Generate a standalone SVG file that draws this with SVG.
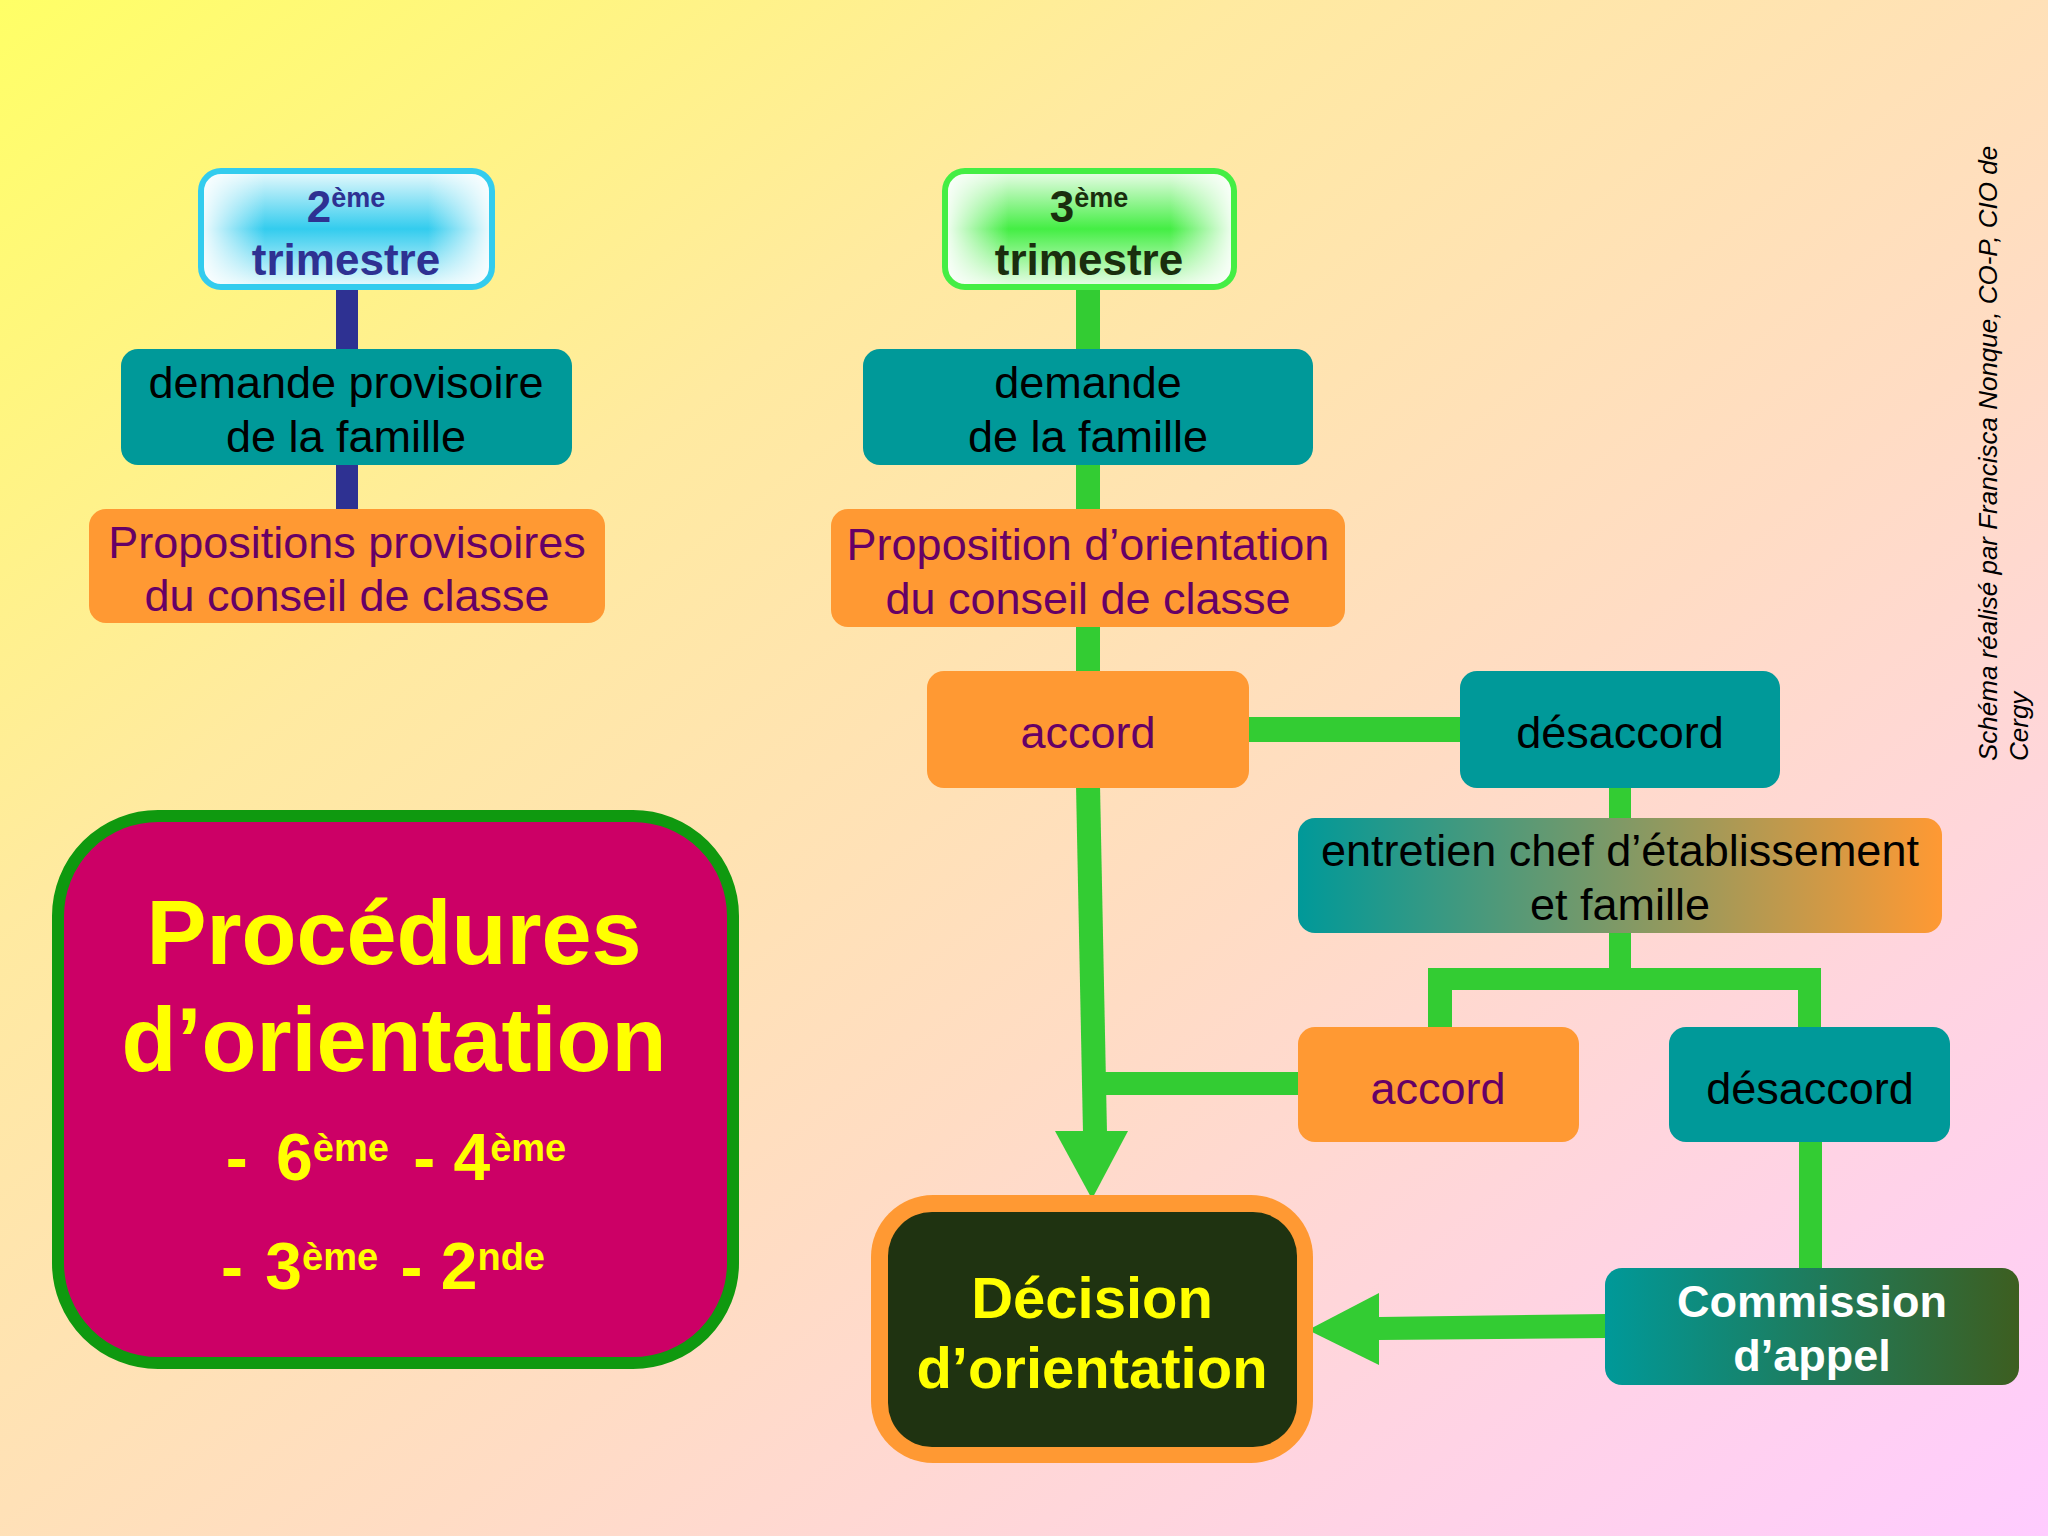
<svg xmlns="http://www.w3.org/2000/svg" width="2048" height="1536" viewBox="0 0 2048 1536">
<defs>
<linearGradient id="bg" x1="0" y1="0" x2="1" y2="1">
<stop offset="0" stop-color="#ffff66"/>
<stop offset="0.3" stop-color="#ffeaa0"/>
<stop offset="0.6" stop-color="#ffdcc4"/>
<stop offset="1" stop-color="#ffccff"/>
</linearGradient>
<linearGradient id="cyanV" x1="0" y1="0" x2="0" y2="1">
<stop offset="0" stop-color="#eafafd"/>
<stop offset="0.5" stop-color="#33ccee"/>
<stop offset="1" stop-color="#eafafd"/>
</linearGradient>
<linearGradient id="greenV" x1="0" y1="0" x2="0" y2="1">
<stop offset="0" stop-color="#ecfdea"/>
<stop offset="0.5" stop-color="#44ee44"/>
<stop offset="1" stop-color="#ecfdea"/>
</linearGradient>
<linearGradient id="whiteH" x1="0" y1="0" x2="1" y2="0">
<stop offset="0" stop-color="#ffffff" stop-opacity="0.95"/>
<stop offset="0.22" stop-color="#ffffff" stop-opacity="0"/>
<stop offset="0.78" stop-color="#ffffff" stop-opacity="0"/>
<stop offset="1" stop-color="#ffffff" stop-opacity="0.95"/>
</linearGradient>
<linearGradient id="entGrad" x1="0" y1="0" x2="1" y2="0">
<stop offset="0" stop-color="#009999"/>
<stop offset="1" stop-color="#ff9933"/>
</linearGradient>
<linearGradient id="comGrad" x1="0" y1="0" x2="1" y2="0">
<stop offset="0" stop-color="#009999"/>
<stop offset="1" stop-color="#3d5e20"/>
</linearGradient>
</defs>
<style>
.t{font-family:"Liberation Sans",Arial,sans-serif;text-anchor:middle}
.b{font-weight:bold}
.n{font-size:45px}
.teal{fill:#009999}
.orange{fill:#ff9933}
.blk{fill:#000000}
.pur{fill:#660066}
.g{fill:#33cc33}
.blue{fill:#2e3192}
</style>
<rect x="0" y="0" width="2048" height="1536" fill="url(#bg)"/>

<g id="connectors">
<rect class="blue" x="336" y="286" width="22" height="66"/>
<rect class="blue" x="336" y="462" width="22" height="50"/>
<rect class="g" x="1076" y="286" width="24" height="66"/>
<rect class="g" x="1076" y="462" width="24" height="50"/>
<rect class="g" x="1076" y="624" width="24" height="50"/>
<rect class="g" x="1246" y="717" width="217" height="25"/>
<rect class="g" x="1609" y="785" width="22" height="36"/>
<polygon class="g" points="1076,785 1100,785 1107,1133 1083,1133"/>
<polygon class="g" points="1055,1131 1128,1131 1092,1199"/>
<rect class="g" x="1097" y="1072" width="204" height="23"/>
<rect class="g" x="1609" y="930" width="22" height="40"/>
<rect class="g" x="1428" y="968" width="393" height="22"/>
<rect class="g" x="1428" y="968" width="24" height="62"/>
<rect class="g" x="1798" y="968" width="23" height="62"/>
<rect class="g" x="1799" y="1139" width="23" height="132"/>
<polygon class="g" points="1379,1317 1607,1314 1607,1338 1379,1340"/>
<polygon class="g" points="1379,1293 1379,1365 1308,1330"/>
</g>

<g id="trim2">
<rect x="201" y="171" width="291" height="116" rx="20" fill="url(#cyanV)"/>
<rect x="201" y="171" width="291" height="116" rx="20" fill="url(#whiteH)" stroke="#33ccee" stroke-width="6"/>
<text class="t b blue" x="346" y="222" font-size="44">2<tspan font-size="27" dy="-15">ème</tspan></text>
<text class="t b blue" x="346" y="275" font-size="44">trimestre</text>
</g>

<g id="trim3">
<rect x="945" y="171" width="289" height="116" rx="20" fill="url(#greenV)"/>
<rect x="945" y="171" width="289" height="116" rx="20" fill="url(#whiteH)" stroke="#44ee44" stroke-width="6"/>
<text class="t b" fill="#1a2e0e" x="1089" y="222" font-size="44">3<tspan font-size="27" dy="-15">ème</tspan></text>
<text class="t b" fill="#1a2e0e" x="1089" y="275" font-size="44">trimestre</text>
</g>

<g id="demande-prov">
<rect class="teal" x="121" y="349" width="451" height="116" rx="17"/>
<text class="t n blk" x="346" y="398">demande provisoire</text>
<text class="t n blk" x="346" y="452">de la famille</text>
</g>

<g id="propositions-prov">
<rect class="orange" x="89" y="509" width="516" height="114" rx="17"/>
<text class="t n pur" x="347" y="558">Propositions provisoires</text>
<text class="t n pur" x="347" y="611">du conseil de classe</text>
</g>

<g id="demande">
<rect class="teal" x="863" y="349" width="450" height="116" rx="17"/>
<text class="t n blk" x="1088" y="398">demande</text>
<text class="t n blk" x="1088" y="452">de la famille</text>
</g>

<g id="proposition">
<rect class="orange" x="831" y="509" width="514" height="118" rx="17"/>
<text class="t n pur" x="1088" y="560">Proposition d’orientation</text>
<text class="t n pur" x="1088" y="614">du conseil de classe</text>
</g>

<g id="accord1">
<rect class="orange" x="927" y="671" width="322" height="117" rx="17"/>
<text class="t n pur" x="1088" y="748">accord</text>
</g>

<g id="desaccord1">
<rect class="teal" x="1460" y="671" width="320" height="117" rx="17"/>
<text class="t n blk" x="1620" y="748">désaccord</text>
</g>

<g id="entretien">
<rect x="1298" y="818" width="644" height="115" rx="17" fill="url(#entGrad)"/>
<text class="t n blk" x="1620" y="866">entretien chef d’établissement</text>
<text class="t n blk" x="1620" y="920">et famille</text>
</g>

<g id="accord2">
<rect class="orange" x="1298" y="1027" width="281" height="115" rx="17"/>
<text class="t n pur" x="1438" y="1104">accord</text>
</g>

<g id="desaccord2">
<rect class="teal" x="1669" y="1027" width="281" height="115" rx="17"/>
<text class="t n blk" x="1810" y="1104">désaccord</text>
</g>

<g id="commission">
<rect x="1605" y="1268" width="414" height="117" rx="17" fill="url(#comGrad)"/>
<text class="t n b" fill="#ffffff" x="1812" y="1317">Commission</text>
<text class="t n b" fill="#ffffff" x="1812" y="1371">d’appel</text>
</g>

<g id="decision">
<rect x="871" y="1195" width="442" height="268" rx="62" fill="#ff9933"/>
<rect x="888" y="1212" width="409" height="235" rx="44" fill="#1f3311"/>
<text class="t b" fill="#ffff00" x="1092" y="1318" font-size="58">Décision</text>
<text class="t b" fill="#ffff00" x="1092" y="1388" font-size="58">d’orientation</text>
</g>

<g id="procedures">
<rect x="58" y="816" width="675" height="547" rx="100" fill="#cc0066" stroke="#0f990f" stroke-width="12"/>
<text class="t b" fill="#ffff00" x="394" y="964" font-size="90">Procédures</text>
<text class="t b" fill="#ffff00" x="394" y="1071" font-size="90">d’orientation</text>
<text class="t b" fill="#ffff00" x="396" y="1180" font-size="66">-<tspan dx="10"> 6</tspan><tspan font-size="38" dy="-19">ème</tspan><tspan dy="19" dx="6"> - 4</tspan><tspan font-size="38" dy="-19">ème</tspan></text>
<text class="t b" fill="#ffff00" x="383" y="1289" font-size="66">-<tspan dx="4"> 3</tspan><tspan font-size="38" dy="-19">ème</tspan><tspan dy="19" dx="4"> - 2</tspan><tspan font-size="38" dy="-19">nde</tspan></text>
</g>

<g id="credit" font-family="'Liberation Sans',Arial,sans-serif" font-style="italic" font-size="26" fill="#000000">
<text transform="translate(1997,761) rotate(-90)">Schéma réalisé par Francisca Nonque, CO-P, CIO de</text>
<text transform="translate(2028,761) rotate(-90)">Cergy</text>
</g>
</svg>
